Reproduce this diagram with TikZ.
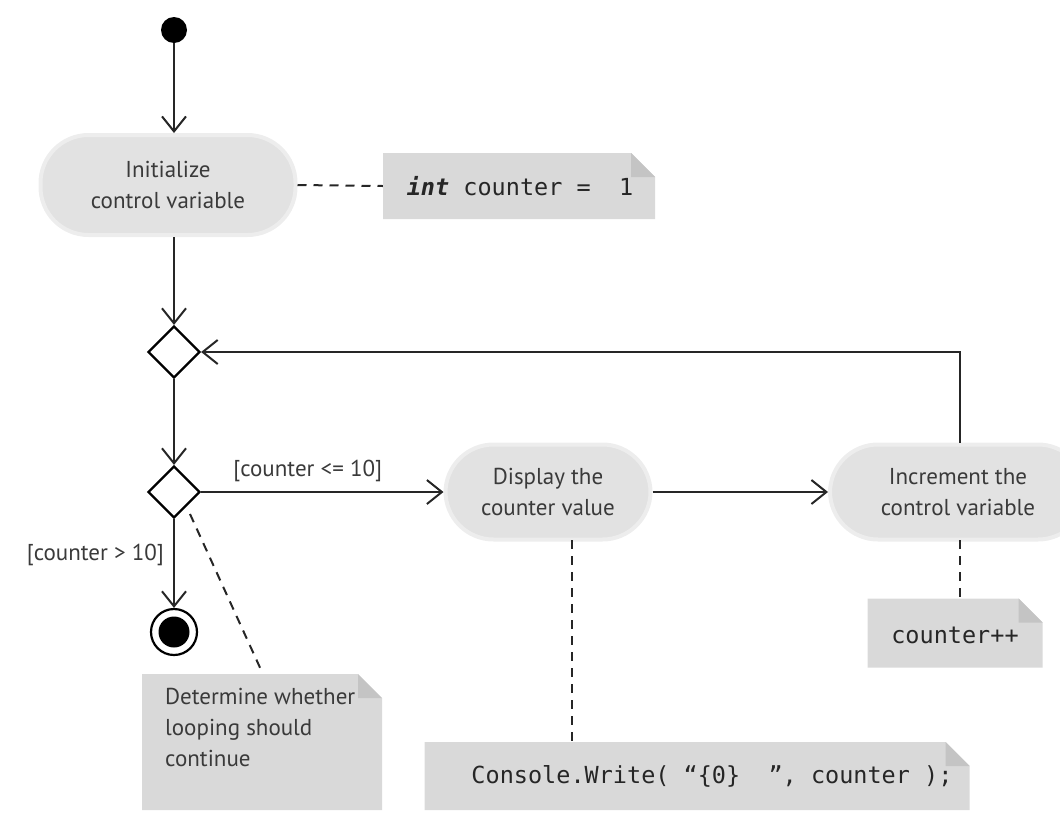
\documentclass[tikz,border=0pt]{standalone}
\usepackage{fontspec}
\setmainfont{PT Sans}
\setmonofont{DejaVu Sans Mono}
\usetikzlibrary{shapes.geometric,arrows.meta}
\definecolor{txt}{HTML}{3A3A3A}
\definecolor{actfill}{HTML}{E2E2E2}
\definecolor{actedge}{HTML}{EDEDED}
\definecolor{notegray}{HTML}{D9D9D9}
\definecolor{foldgray}{HTML}{C4C4C4}
\tikzset{
  flow/.style={line width=2.2pt, draw=black!85, -{Straight Barb[length=15pt,width=24pt,line width=2pt]}},
  link/.style={line width=2pt, draw=black!85, dash pattern=on 9pt off 7pt},
  activity/.style={rectangle, rounded corners=48pt, fill=actfill, draw=actedge, line width=4pt,
    text=txt, align=center, font=\fontsize{23}{31}\selectfont, inner sep=0pt},
  decision/.style={diamond, draw=black, line width=2.2pt, fill=white, minimum size=52pt, inner sep=0pt},
  notebox/.style={rectangle, inner sep=0pt, fill=white, text=txt,
    path picture={
      \fill[notegray] (path picture bounding box.south west) -- (path picture bounding box.north west)
        -- ([xshift=-24pt]path picture bounding box.north east) -- ([yshift=-24pt]path picture bounding box.north east)
        -- (path picture bounding box.south east) -- cycle;
      \fill[foldgray] ([xshift=-24pt]path picture bounding box.north east) -- ([yshift=-24pt]path picture bounding box.north east)
        -- ([xshift=-24pt,yshift=-24pt]path picture bounding box.north east) -- cycle;
    }},
  lbl/.style={text=txt, font=\fontsize{23}{28}\selectfont, inner sep=0pt},
  code/.style={text=black!85, font=\fontsize{23.5}{28}\ttfamily\selectfont}
}
\begin{document}
\begin{tikzpicture}[x=1pt,y=-1pt]
\useasboundingbox (0,0) rectangle (1060,817);

% nodes
\node[circle, fill=black, minimum size=26pt, inner sep=0pt] (start) at (174,30) {};
\node[activity, minimum width=255pt, minimum height=100pt] (init) at (168,185) {Initialize\\control variable};
\node[notebox, minimum width=272pt, minimum height=66pt] (n1) at (519,186) {};
\node[code] (n1t) at (520,186) {\textbf{\textit{int}} counter =~~1};

\node[decision] (d1) at (174,352) {};
\node[decision] (d2) at (174,492) {};

\node[activity, minimum width=205pt, minimum height=95pt] (disp) at (548,492) {Display the\\counter value};
\node[activity, minimum width=256pt, minimum height=95pt] (inc) at (958,492) {Increment the\\control variable};

\node[circle, draw=black, line width=2.2pt, fill=white, minimum size=46pt, inner sep=0pt] (final) at (174,632) {};
\fill[black] (final.center) circle (15.5pt);

\node[notebox, minimum width=240pt, minimum height=136pt] (n2) at (262,742) {};
\node[text=txt, align=left, font=\fontsize{23}{31}\selectfont, anchor=north west, inner sep=0pt] (n2t) at (165,688) {Determine whether\\looping should\\continue};

\node[notebox, minimum width=545pt, minimum height=68pt] (n3) at (697,776) {};
\node[code] (n3t) at (712,776) {Console.Write( “\{0\}~~”, counter );};

\node[notebox, minimum width=175pt, minimum height=69pt] (n4) at (955,633) {};
\node[code] (n4t) at (955,635) {counter++};

% coordinates
\coordinate (loopc) at (960,352);
\coordinate (dispb) at (572,540);
\coordinate (incb) at (960,540);
\coordinate (d2c) at (190,514);
\coordinate (n2c) at (262,672);

% connectors
\draw[flow] (start) -- (init.north -| start);
\draw[link] (init.east) -- (n1.west);
\draw[flow] (init.south -| d1) -- (d1);
\draw[flow] (d1) -- (d2);
\draw[flow] (d2.east) -- node[lbl, above=9pt, pos=0.44] {[counter <= 10]} (disp.west);
\draw[flow] (disp.east) -- (inc.west);
\draw[flow] (inc.north -| loopc) -- (loopc) -- (d1.east);
\draw[flow] (d2.south) -- node[lbl, left=9pt, pos=0.4] {[counter > 10]} (final.north);
\draw[link] (d2c) -- (n2c);
\draw[link] (dispb) -- (n3.north -| dispb);
\draw[link] (incb) -- (n4.north -| incb);
\end{tikzpicture}
\end{document}
